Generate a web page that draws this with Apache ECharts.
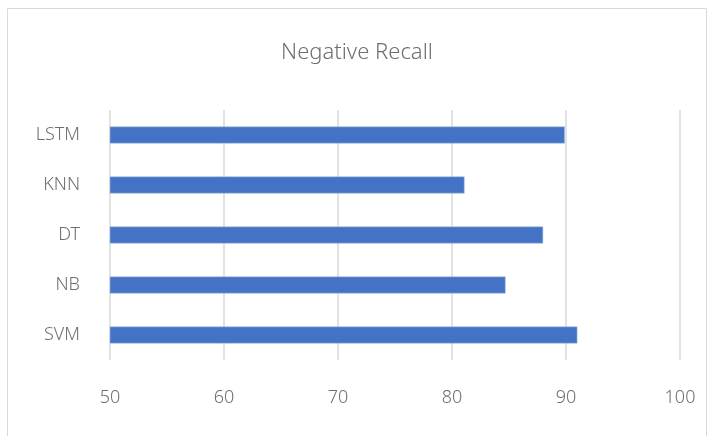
<!DOCTYPE html>
<html>
<head>
<meta charset="utf-8">
<script src="https://cdn.jsdelivr.net/npm/echarts@6/dist/echarts.min.js"></script>
<style>
  html, body { margin: 0; padding: 0; background: #fff; }
  #chart { width: 714px; height: 436px; }
</style>
</head>
<body>
<div id="chart"></div>
<script>
// Models, listed bottom to top as they appear on the category axis
const models = ['SVM', 'NB', 'DT', 'KNN', 'LSTM'];
// Negative recall per model (%)
const negativeRecall = [91.0, 84.7, 88.0, 81.1, 89.9];
// Value axis range
const axisMin = 50;
const axisMax = 100;
const axisStep = 10;

const textColor = '#6e6e6e';
const fontFamily = '"Noto Sans", "Open Sans", sans-serif';

const chart = echarts.init(document.getElementById('chart'), null, { renderer: 'canvas' });
chart.setOption({
  backgroundColor: '#ffffff',
  animation: false,
  title: {
    text: 'Negative Recall',
    left: 'center',
    top: 37,
    textStyle: { color: textColor, fontSize: 22, fontWeight: 300, fontFamily: fontFamily }
  },
  graphic: [{
    type: 'rect',
    shape: { x: 7.5, y: 8.5, width: 699, height: 440 },
    style: { fill: 'none', stroke: '#d9d9d9', lineWidth: 1 },
    silent: true
  }],
  grid: { left: 110, right: 34, top: 110, bottom: 76 },
  xAxis: {
    type: 'value',
    min: axisMin,
    max: axisMax,
    interval: axisStep,
    axisLine: { show: false },
    axisTick: { show: false },
    axisLabel: { color: textColor, fontSize: 18, fontWeight: 300, margin: 29, fontFamily: fontFamily },
    splitLine: { show: true, lineStyle: { color: '#d9d9d9', width: 1.5 } }
  },
  yAxis: {
    type: 'category',
    data: models,
    axisLine: { show: false },
    axisTick: { show: false },
    axisLabel: { color: textColor, fontSize: 18, fontWeight: 300, margin: 30, fontFamily: fontFamily }
  },
  series: [{
    type: 'bar',
    data: negativeRecall,
    barWidth: 17,
    itemStyle: { color: '#4472C4', borderColor: '#a9bde3', borderWidth: 0.6 }
  }]
});
</script>
</body>
</html>
